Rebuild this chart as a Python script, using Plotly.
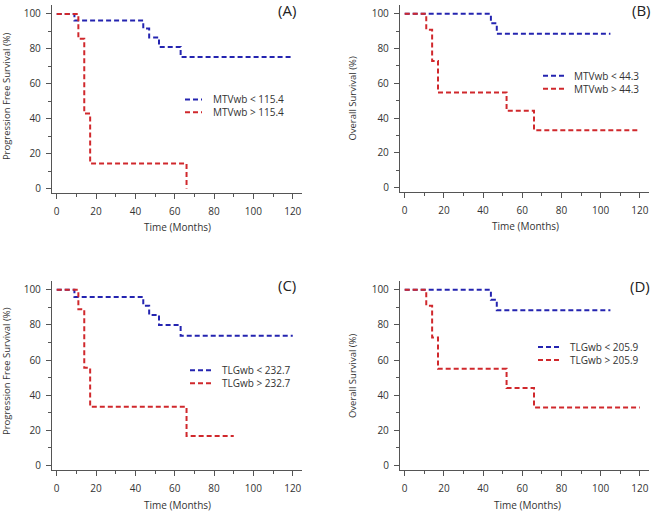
import plotly.graph_objects as go

W, H = 653, 513

# ---------------- data ----------------
time_label = "Time (Months)"
panel_labels = ["(A)", "(B)", "(C)", "(D)"]
y_titles = ["Progression Free Survival (%)", "Overall Survival (%)",
            "Progression Free Survival (%)", "Overall Survival (%)"]
x_ticks = [0, 20, 40, 60, 80, 100, 120]
y_ticks = [0, 20, 40, 60, 80, 100]

# Panel A
a_low_t = [0, 9, 44, 47, 52, 63, 120]
a_low_s = [100, 96.2, 91.6, 86.5, 81.1, 75.3, 75.3]
a_high_t = [0, 11, 14, 17, 66]
a_high_s = [100, 85.7, 42.9, 14.3, 0]
a_names = ["MTVwb < 115.4", "MTVwb > 115.4"]

# Panel B
b_low_t = [0, 44, 47, 105]
b_low_s = [100, 94.6, 88.6, 88.6]
b_high_t = [0, 11, 14, 17, 52, 66, 120]
b_high_s = [100, 90.9, 72.9, 54.7, 44.2, 33.0, 33.0]
b_names = ["MTVwb < 44.3", "MTVwb > 44.3"]

# Panel C
c_low_t = [0, 9, 44, 47, 52, 63, 120]
c_low_s = [100, 96.0, 91.0, 85.7, 80.0, 73.8, 73.8]
c_high_t = [0, 11, 14, 17, 66, 90]
c_high_s = [100, 88.9, 55.6, 33.4, 16.8, 16.8]
c_names = ["TLGwb < 232.7", "TLGwb > 232.7"]

# Panel D
d_low_t = [0, 44, 47, 105]
d_low_s = [100, 94.4, 88.4, 88.4]
d_high_t = [0, 11, 14, 17, 52, 66, 120]
d_high_s = [100, 91.0, 72.8, 55.0, 44.1, 33.0, 33.0]
d_names = ["TLGwb < 205.9", "TLGwb > 205.9"]

panels = [
    (a_low_t, a_low_s, a_high_t, a_high_s, a_names),
    (b_low_t, b_low_s, b_high_t, b_high_s, b_names),
    (c_low_t, c_low_s, c_high_t, c_high_s, c_names),
    (d_low_t, d_low_s, d_high_t, d_high_s, d_names),
]

# ---------------- styling / layout (pixels) ----------------
BLUE = "#2424b0"
RED = "#d0282c"
DASH = "5px,3px"
FONT = "Open Sans"
AXIS_COL = "#555555"
TEXT_COL = "#333333"

# plot boxes: (left, right, top, bottom) in pixels
boxes = [(52, 302, 5, 194), (400, 649, 5, 193),
         (52, 302, 282, 472), (400, 649, 282, 472)]
x_range = [-2.4, 124.7]
y_range = [-2.7, 105.1]

# legend: (line x0, line x1, text x, centre y); rows are 13 px apart
ROW = 13
legends = [(185, 202, 211, 106.3), (543, 565, 572, 82.5),
           (190, 211, 220, 378.3), (538, 560, 568, 354.8)]
panel_label_pos = [(286.5, 10), (641, 10), (286.5, 286), (640, 287.5)]
ytitle_pos = [(6.5, 97), (353, 99), (6.5, 373), (352.5, 377)]
xtitle_pos = [(177, 227.5), (525, 227), (178, 506.5), (527, 506.5)]


def px(x):
    return x / W


def py(y):
    return 1 - y / H


fig = go.Figure()
annotations = []
shapes = []

for i, (lt, ls, ht, hs, names) in enumerate(panels):
    n = "" if i == 0 else str(i + 1)
    xa, ya = "x" + n, "y" + n
    fig.add_trace(go.Scatter(x=lt, y=ls, mode="lines", name=names[0],
                             line=dict(color=BLUE, width=2, dash=DASH, shape="hv"),
                             xaxis=xa, yaxis=ya, showlegend=False))
    fig.add_trace(go.Scatter(x=ht, y=hs, mode="lines", name=names[1],
                             line=dict(color=RED, width=2, dash=DASH, shape="hv"),
                             xaxis=xa, yaxis=ya, showlegend=False))
    l, r, t, b = boxes[i]
    common = dict(showline=True, linecolor=AXIS_COL, linewidth=1.3,
                  ticks="outside", ticklen=5, tickcolor=AXIS_COL, tickwidth=1.3,
                  showgrid=False, zeroline=False, fixedrange=True,
                  tickfont=dict(family=FONT, size=10, color=TEXT_COL),
                  minor=dict(ticks="outside", ticklen=3, dtick=10,
                             tickcolor=AXIS_COL, tickwidth=1, showgrid=False))
    fig.layout["xaxis" + n] = dict(domain=[px(l), px(r)], range=x_range,
                                   tickvals=x_ticks, anchor=ya,
                                   ticklabelstandoff=4, **common)
    fig.layout["yaxis" + n] = dict(domain=[py(b), py(t)], range=y_range,
                                   tickvals=y_ticks, anchor=xa,
                                   ticklabelstandoff=3, **common)

    # legend
    lx0, lx1, tx, cy = legends[i]
    for yy, col in [(cy - ROW / 2, BLUE), (cy + ROW / 2, RED)]:
        shapes.append(dict(type="line", xref="paper", yref="paper",
                           x0=px(lx0), x1=px(lx1), y0=py(yy), y1=py(yy),
                           line=dict(color=col, width=2, dash=DASH)))
    annotations.append(dict(text="<br>".join(names), xref="paper", yref="paper",
                            x=px(tx), y=py(cy), xanchor="left", yanchor="middle",
                            align="left", showarrow=False,
                            font=dict(family=FONT, size=10, color=TEXT_COL)))
    # panel label
    lx, ly = panel_label_pos[i]
    annotations.append(dict(text=panel_labels[i], xref="paper", yref="paper",
                            x=px(lx), y=py(ly), xanchor="center", yanchor="middle",
                            showarrow=False,
                            font=dict(family=FONT, size=15, color="#222222")))
    # axis titles
    yx, yy = ytitle_pos[i]
    annotations.append(dict(text=y_titles[i], xref="paper", yref="paper",
                            x=px(yx), y=py(yy), xanchor="center", yanchor="middle",
                            textangle=-90, showarrow=False,
                            font=dict(family=FONT, size=9.5, color=TEXT_COL)))
    xx, xy = xtitle_pos[i]
    annotations.append(dict(text=time_label, xref="paper", yref="paper",
                            x=px(xx), y=py(xy), xanchor="center", yanchor="middle",
                            showarrow=False,
                            font=dict(family=FONT, size=10, color=TEXT_COL)))

fig.update_layout(width=W, height=H, margin=dict(l=0, r=0, t=0, b=0),
                  paper_bgcolor="white", plot_bgcolor="white",
                  annotations=annotations, shapes=shapes, showlegend=False)

fig.write_html("out.html",
               config={"displayModeBar": False},
               post_script="document.body.style.margin='0';"
                           "document.body.style.overflow='hidden';")
